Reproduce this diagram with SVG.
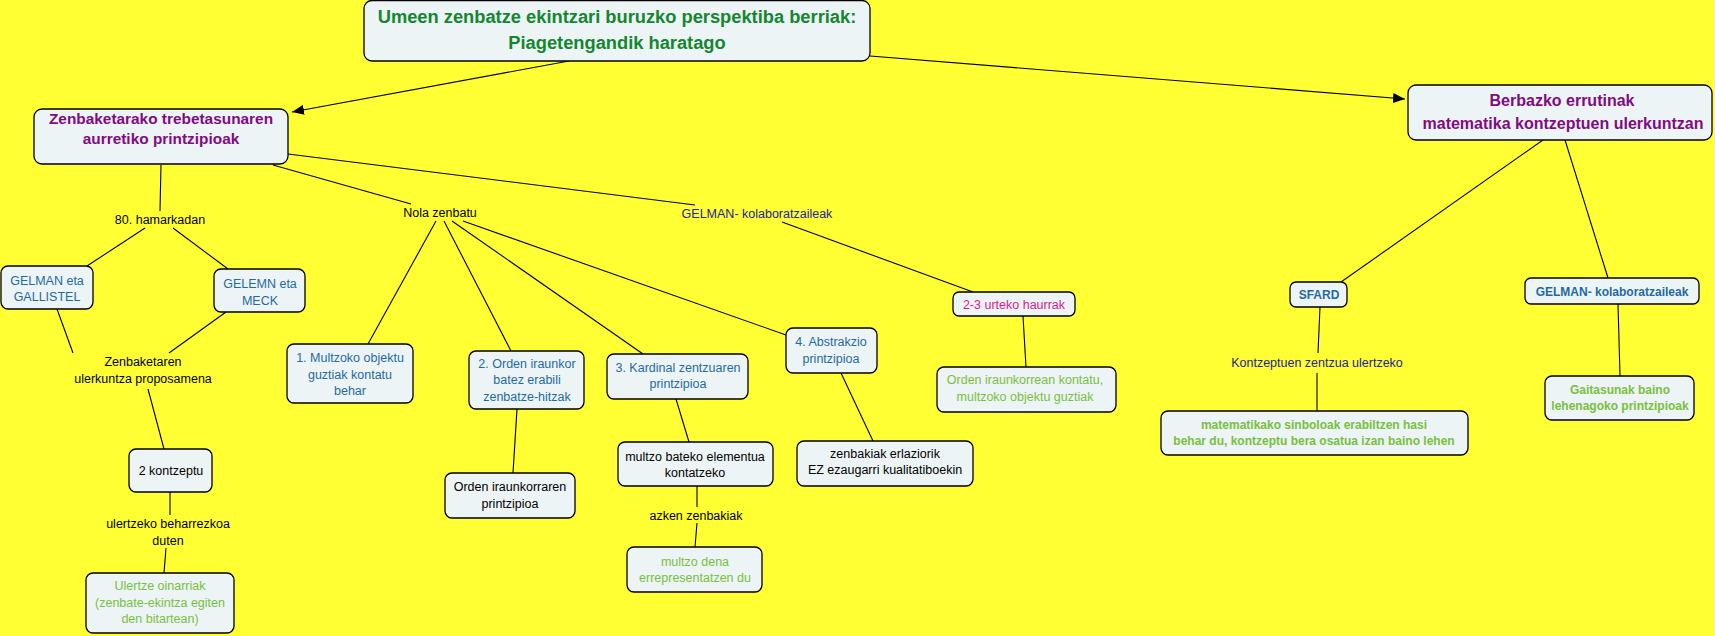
<svg xmlns="http://www.w3.org/2000/svg" width="1715" height="636" viewBox="0 0 1715 636">
<defs>
<marker id="arr" viewBox="0 0 12 10" refX="12" refY="5" markerWidth="12" markerHeight="10" markerUnits="userSpaceOnUse" orient="auto">
<path d="M0,0 L12,5 L0,10 z" fill="#000"/>
</marker>
<style>
.bx{fill:#edf4f6;stroke:#000;stroke-width:1.3}
.t{font-family:"Liberation Sans",Arial,sans-serif;font-size:12.5px;text-anchor:middle}
.b{font-weight:bold}
.big{font-size:16px;font-weight:bold}
.title{font-size:18.3px;font-weight:bold;fill:#13872f}
.pur{fill:#820a82}
.teal{fill:#1f6aa0}
.dblue{fill:#23239a}
.grn{fill:#78c03c}
.mag{fill:#e01a8e}
.blk{fill:#000}
.sm{font-size:12px}
.zb{font-size:15.4px}
#connectors line{stroke:#000;stroke-width:1.1}
</style>
</defs>
<rect x="0" y="0" width="1715" height="636" fill="#ffff33"/>
<g id="connectors">
<line x1="569" y1="61" x2="292" y2="112" marker-end="url(#arr)"/>
<line x1="870" y1="56" x2="1405" y2="99" marker-end="url(#arr)"/>
<line x1="161" y1="165" x2="160" y2="211"/>
<line x1="145" y1="228" x2="87" y2="266"/>
<line x1="173" y1="228" x2="228" y2="269"/>
<line x1="273" y1="165" x2="411" y2="204"/>
<line x1="288" y1="154" x2="695" y2="205"/>
<line x1="782" y1="222" x2="973" y2="292"/>
<line x1="436" y1="221" x2="368" y2="344"/>
<line x1="444" y1="221" x2="511" y2="351"/>
<line x1="452" y1="221" x2="643" y2="354"/>
<line x1="463" y1="221" x2="786" y2="335"/>
<line x1="57" y1="309" x2="73" y2="353"/>
<line x1="226" y1="312" x2="169" y2="353"/>
<line x1="148" y1="389" x2="164" y2="449"/>
<line x1="170" y1="492" x2="170" y2="515"/>
<line x1="166" y1="548" x2="164" y2="573"/>
<line x1="517" y1="409" x2="513" y2="473"/>
<line x1="676" y1="399" x2="689" y2="442"/>
<line x1="697" y1="486" x2="697" y2="507"/>
<line x1="697" y1="523" x2="695" y2="547"/>
<line x1="841" y1="373" x2="873" y2="441"/>
<line x1="1023" y1="316" x2="1026" y2="367"/>
<line x1="1543" y1="140" x2="1341" y2="282"/>
<line x1="1565" y1="140" x2="1608" y2="278"/>
<line x1="1320" y1="307" x2="1318" y2="353"/>
<line x1="1317" y1="373" x2="1317" y2="411"/>
<line x1="1618" y1="304" x2="1620" y2="376"/>
</g>
<g id="n-main">
<rect class="bx" x="364" y="0.5" width="506" height="60.5" rx="8"/>
<text class="t title" x="617" y="23">Umeen zenbatze ekintzari buruzko perspektiba berriak:</text>
<text class="t title" x="617" y="49">Piagetengandik haratago</text>
</g>
<g id="n-zenbaketarako">
<rect class="bx" x="34" y="109" width="254" height="55" rx="8"/>
<text class="t big zb pur" x="161" y="124">Zenbaketarako trebetasunaren</text>
<text class="t big zb pur" x="161" y="144">aurretiko printzipioak</text>
</g>
<g id="n-berbazko">
<rect class="bx" x="1408" y="85" width="304" height="55" rx="8"/>
<text class="t big pur" x="1562" y="106">Berbazko errutinak</text>
<text class="t big pur" x="1563" y="128.5">matematika kontzeptuen ulerkuntzan</text>
</g>
<g id="l-80">
<text class="t blk" x="160" y="223.5">80. hamarkadan</text>
</g>
<g id="l-nola">
<text class="t blk" x="440" y="216.5">Nola zenbatu</text>
</g>
<g id="l-gelman-kol">
<text class="t dblue" x="757" y="217.5">GELMAN- kolaboratzaileak</text>
</g>
<g id="n-gallistel">
<rect class="bx" x="1" y="266" width="92" height="43" rx="7"/>
<text class="t teal" x="47" y="284.5">GELMAN eta</text>
<text class="t teal" x="47" y="301">GALLISTEL</text>
</g>
<g id="n-meck">
<rect class="bx" x="214" y="269" width="91" height="43" rx="7"/>
<text class="t teal" x="260" y="288">GELEMN eta</text>
<text class="t teal" x="260" y="304.5">MECK</text>
</g>
<g id="l-zenbaketaren">
<text class="t blk" x="143" y="366">Zenbaketaren</text>
<text class="t blk" x="143" y="382.5">ulerkuntza proposamena</text>
</g>
<g id="n-2kontzeptu">
<rect class="bx" x="129" y="449" width="83" height="43" rx="7"/>
<text class="t blk" x="171" y="475">2 kontzeptu</text>
</g>
<g id="l-ulertzeko">
<text class="t blk" x="168" y="527.5">ulertzeko beharrezkoa</text>
<text class="t blk" x="168" y="544.5">duten</text>
</g>
<g id="n-ulertze">
<rect class="bx" x="86" y="573" width="148" height="60" rx="7"/>
<text class="t grn" x="160" y="590">Ulertze oinarriak</text>
<text class="t grn" x="160" y="606.5">(zenbate-ekintza egiten</text>
<text class="t grn" x="160" y="623">den bitartean)</text>
</g>
<g id="n-p1">
<rect class="bx" x="287" y="344" width="126" height="59" rx="7"/>
<text class="t teal" x="350" y="362">1. Multzoko objektu</text>
<text class="t teal" x="350" y="378.5">guztiak kontatu</text>
<text class="t teal" x="350" y="395">behar</text>
</g>
<g id="n-p2">
<rect class="bx" x="469" y="351" width="115" height="58" rx="7"/>
<text class="t teal" x="527" y="367.5">2. Orden iraunkor</text>
<text class="t teal" x="527" y="384">batez erabili</text>
<text class="t teal" x="527" y="400.5">zenbatze-hitzak</text>
</g>
<g id="n-orden-printzipioa">
<rect class="bx" x="445" y="473" width="130" height="45" rx="7"/>
<text class="t blk" x="510" y="491">Orden iraunkorraren</text>
<text class="t blk" x="510" y="507.5">printzipioa</text>
</g>
<g id="n-p3">
<rect class="bx" x="607" y="354" width="141" height="45" rx="7"/>
<text class="t teal" x="678" y="371.5">3. Kardinal zentzuaren</text>
<text class="t teal" x="678" y="388">printzipioa</text>
</g>
<g id="n-multzo-bateko">
<rect class="bx" x="618" y="442" width="155" height="44" rx="7"/>
<text class="t blk" x="695" y="461">multzo bateko elementua</text>
<text class="t blk" x="695" y="477">kontatzeko</text>
</g>
<g id="l-azken">
<text class="t blk" x="696" y="519.5">azken zenbakiak</text>
</g>
<g id="n-multzo-dena">
<rect class="bx" x="627" y="547" width="135" height="45" rx="7"/>
<text class="t grn" x="695" y="566">multzo dena</text>
<text class="t grn" x="695" y="582">errepresentatzen du</text>
</g>
<g id="n-p4">
<rect class="bx" x="786" y="328" width="91" height="45" rx="7"/>
<text class="t teal" x="831" y="346">4. Abstrakzio</text>
<text class="t teal" x="831" y="362.5">printzipioa</text>
</g>
<g id="n-zenbakiak">
<rect class="bx" x="797" y="441" width="176" height="45" rx="7"/>
<text class="t blk" x="885" y="457.5">zenbakiak erlaziorik</text>
<text class="t blk" x="885" y="474">EZ ezaugarri kualitatiboekin</text>
</g>
<g id="n-2-3">
<rect class="bx" x="953" y="292" width="122" height="24" rx="6"/>
<text class="t mag" x="1014" y="308.5">2-3 urteko haurrak</text>
</g>
<g id="n-orden-kontatu">
<rect class="bx" x="937" y="367" width="179" height="45" rx="7"/>
<text class="t grn" x="1025" y="384">Orden iraunkorrean kontatu,</text>
<text class="t grn" x="1025" y="400.5">multzoko objektu guztiak</text>
</g>
<g id="n-sfard">
<rect class="bx" x="1290" y="282" width="57" height="25" rx="6"/>
<text class="t sm b teal" x="1319" y="298.5">SFARD</text>
</g>
<g id="n-gelman-kol2">
<rect class="bx" x="1525" y="278" width="174" height="26" rx="6"/>
<text class="t sm b teal" x="1612" y="295.5">GELMAN- kolaboratzaileak</text>
</g>
<g id="l-kontzeptuen">
<text class="t dblue" x="1317" y="367">Kontzeptuen zentzua ulertzeko</text>
</g>
<g id="n-matematikako">
<rect class="bx" x="1161" y="411" width="307" height="44" rx="7"/>
<text class="t sm b grn" x="1314" y="428.5">matematikako sinboloak erabiltzen hasi</text>
<text class="t sm b grn" x="1314" y="444.5">behar du, kontzeptu bera osatua izan baino lehen</text>
</g>
<g id="n-gaitasunak">
<rect class="bx" x="1545" y="376" width="149" height="44" rx="7"/>
<text class="t sm b grn" x="1620" y="393.5">Gaitasunak baino</text>
<text class="t sm b grn" x="1620" y="409.5">lehenagoko printzipioak</text>
</g>
</svg>
